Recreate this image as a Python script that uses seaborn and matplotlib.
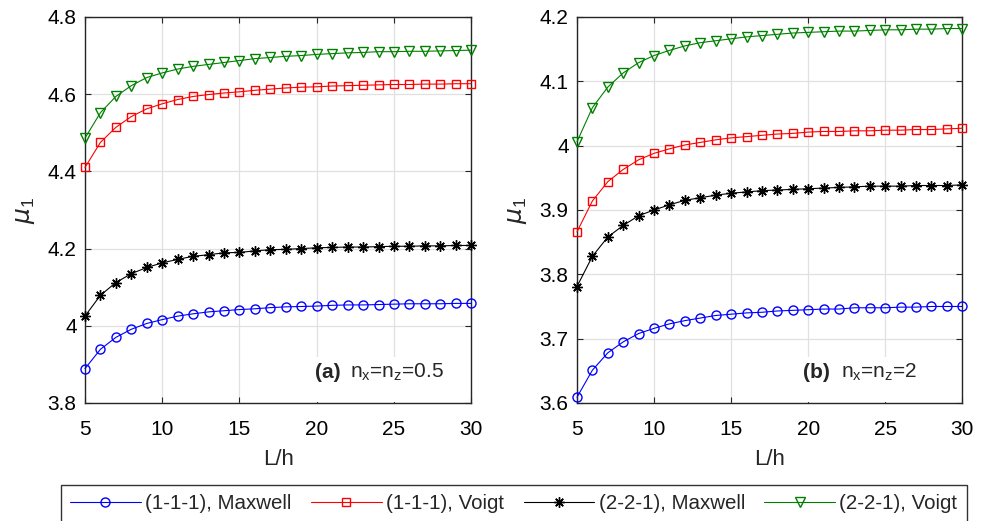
import numpy as np
import pandas as pd
import seaborn as sns
import matplotlib.pyplot as plt
from matplotlib.patches import Rectangle
from matplotlib.ticker import FuncFormatter, MultipleLocator

L_h = list(range(5, 31))

# panel (a) nx = nz = 0.5
a_111_maxwell = [3.889, 3.939, 3.970, 3.991, 4.006, 4.016, 4.025, 4.031, 4.036, 4.039,
                 4.042, 4.044, 4.047, 4.049, 4.050, 4.051, 4.053, 4.054, 4.054, 4.055,
                 4.056, 4.057, 4.057, 4.057, 4.058, 4.058]
a_111_voigt = [4.410, 4.475, 4.514, 4.542, 4.562, 4.575, 4.586, 4.594, 4.599, 4.603,
               4.606, 4.610, 4.613, 4.616, 4.618, 4.619, 4.621, 4.622, 4.623, 4.624,
               4.625, 4.625, 4.626, 4.626, 4.627, 4.627]
a_221_maxwell = [4.025, 4.079, 4.112, 4.135, 4.151, 4.163, 4.172, 4.180, 4.184, 4.189,
                 4.190, 4.194, 4.197, 4.198, 4.200, 4.202, 4.203, 4.204, 4.204, 4.205,
                 4.206, 4.206, 4.207, 4.207, 4.208, 4.208]
a_221_voigt = [4.486, 4.552, 4.594, 4.622, 4.643, 4.655, 4.665, 4.672, 4.677, 4.682,
               4.687, 4.692, 4.695, 4.698, 4.700, 4.703, 4.705, 4.707, 4.708, 4.710,
               4.710, 4.711, 4.711, 4.712, 4.713, 4.714]

# panel (b) nx = nz = 2
b_111_maxwell = [3.609, 3.651, 3.678, 3.695, 3.708, 3.716, 3.723, 3.728, 3.732, 3.736,
                 3.738, 3.740, 3.741, 3.743, 3.744, 3.745, 3.746, 3.746, 3.748, 3.748,
                 3.748, 3.749, 3.749, 3.750, 3.750, 3.750]
b_111_voigt = [3.866, 3.914, 3.944, 3.963, 3.978, 3.988, 3.995, 4.001, 4.005, 4.009,
               4.012, 4.014, 4.016, 4.018, 4.019, 4.021, 4.022, 4.022, 4.023, 4.023,
               4.024, 4.024, 4.025, 4.025, 4.026, 4.027]
b_221_maxwell = [3.781, 3.828, 3.858, 3.876, 3.891, 3.900, 3.908, 3.915, 3.919, 3.923,
                 3.926, 3.928, 3.930, 3.931, 3.932, 3.933, 3.934, 3.935, 3.936, 3.937,
                 3.937, 3.937, 3.938, 3.938, 3.938, 3.939]
b_221_voigt = [4.006, 4.059, 4.091, 4.113, 4.129, 4.140, 4.148, 4.155, 4.160, 4.163,
               4.166, 4.169, 4.171, 4.173, 4.175, 4.176, 4.177, 4.178, 4.178, 4.179,
               4.180, 4.180, 4.181, 4.181, 4.182, 4.182]

labels = ['(1-1-1), Maxwell', '(1-1-1), Voigt', '(2-2-1), Maxwell', '(2-2-1), Voigt']
colors = ['#0000ff', '#ff0000', '#000000', '#008000']
markers = ['o', 's', (8, 2, 0), 'v']
msizes = [6.5, 5.5, 7.5, 7.5]

sns.set_style('ticks')
plt.rcParams['font.family'] = ['Liberation Sans', 'DejaVu Sans']
plt.rcParams['mathtext.default'] = 'regular'

fig = plt.figure(figsize=(9.88, 5.21), dpi=100)
ax_a = fig.add_axes([0.086, 0.2265, 0.391, 0.741])
ax_b = fig.add_axes([0.584, 0.2265, 0.390, 0.741])

panels = [
    (ax_a, [a_111_maxwell, a_111_voigt, a_221_maxwell, a_221_voigt], (3.8, 4.8), 0.2,
     '(a)', 'n$_x$=n$_z$=0.5', 0.596, 0.687),
    (ax_b, [b_111_maxwell, b_111_voigt, b_221_maxwell, b_221_voigt], (3.6, 4.2), 0.1,
     '(b)', 'n$_x$=n$_z$=2', 0.587, 0.686),
]

for ax, series, ylim, ystep, tag, txt, xtag, xtxt in panels:
    for vals, lab, c, m, ms in zip(series, labels, colors, markers, msizes):
        df = pd.DataFrame({'L/h': L_h, 'mu': vals})
        sns.lineplot(data=df, x='L/h', y='mu', ax=ax, color=c, marker=m,
                     markersize=ms, markerfacecolor='none', markeredgecolor=c,
                     markeredgewidth=1.0, linewidth=0.8, label=lab, legend=False,
                     clip_on=False, zorder=3)
    ax.set_xlim(5, 30)
    ax.set_ylim(*ylim)
    ax.xaxis.set_major_locator(MultipleLocator(5))
    ax.yaxis.set_major_locator(MultipleLocator(ystep))
    ax.yaxis.set_major_formatter(FuncFormatter(lambda v, p: f'{v:g}'))
    ax.grid(True, color='#e0e0e0', linewidth=0.9, zorder=0)
    ax.set_axisbelow(True)
    ax.tick_params(direction='in', length=4, width=0.8, top=True, right=True,
                   labelsize=15, colors='#262626', labelcolor='black')
    ax.tick_params(axis='x', pad=12.5)
    ax.tick_params(axis='y', pad=6)
    for sp in ax.spines.values():
        sp.set_color('#262626')
        sp.set_linewidth(1.0)
        sp.set_visible(True)
    ax.set_xlabel('L/h', fontsize=16, labelpad=7)
    ax.set_ylabel(r'$\mathit{\mu}_1$', fontsize=18, labelpad=8)
    # white background behind the annotation
    ax.add_patch(Rectangle((xtag - 0.03, 0.003), 1 - xtag + 0.025, 0.117,
                           transform=ax.transAxes, facecolor='white',
                           edgecolor='none', zorder=2))
    ax.text(xtag, 0.065, tag, transform=ax.transAxes, ha='left', va='baseline',
            fontsize=15, fontweight='bold', zorder=5)
    ax.text(xtxt, 0.065, txt, transform=ax.transAxes, ha='left', va='baseline',
            fontsize=15, zorder=5)

handles, labs = ax_a.get_legend_handles_labels()
leg = fig.legend(handles, labs, loc='upper center', bbox_to_anchor=(0.5200, 0.0691),
                 borderaxespad=0, ncol=4, fontsize=14.8, frameon=True, fancybox=False,
                 edgecolor='black', handlelength=3.45, columnspacing=0.95,
                 handletextpad=0.2, borderpad=0.45)
leg.get_frame().set_linewidth(1.0)

fig.savefig('out.png', dpi=100)
